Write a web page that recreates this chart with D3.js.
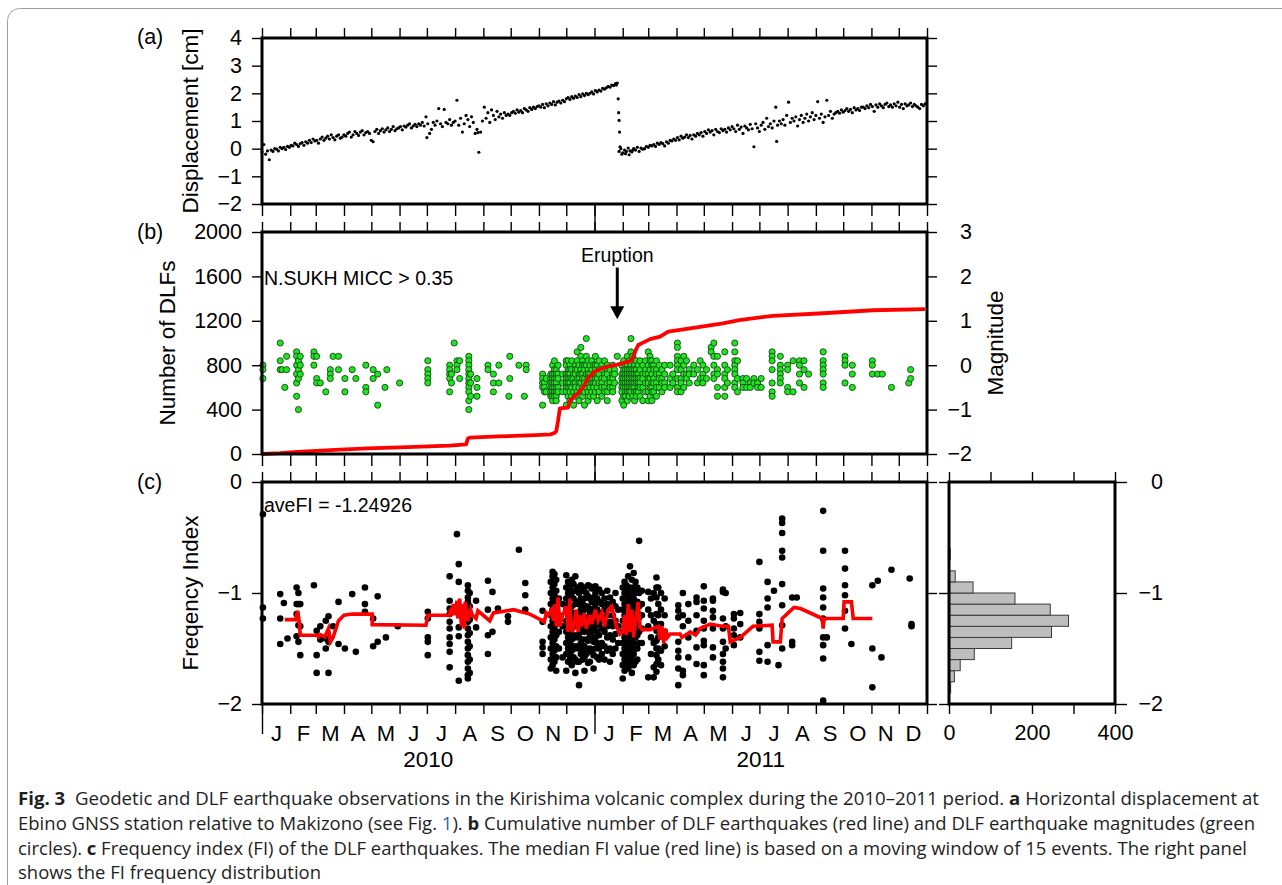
<!DOCTYPE html>
<html>
<head>
<meta charset="utf-8">
<script src="https://cdn.jsdelivr.net/npm/d3@7"></script>
<style>
  body { margin: 0; background: #fff; }
</style>
</head>
<body>
<svg id="fig" width="1282" height="885"></svg>
<script>
// Kirishima DLF figure: displacement, DLF count/magnitude, frequency index + histogram

const T0 = Date.UTC(2010, 0, 1);
const T1 = Date.UTC(2012, 0, 1);
const toDate = d => new Date(T0 + d * 864e5);

// (a) displacement [cm], one reading every dispStep days from 2010-01-01
const dispStep = 2;
const dispValues = [
  -0.12, 0.15, -0.2, -0.08, -0.4, -0.05, -0.1, 0.0, -0.02, -0.08, 0.05, 0.0, 0.05, -0.03, 0.08,
  0.05, 0.12, 0.1, 0.2, 0.15, 0.08, 0.18, 0.22, 0.12, 0.25, 0.2, 0.3, 0.22, 0.35, 0.28,
  0.3, 0.2, 0.35, 0.42, 0.3, 0.38, 0.45, 0.35, 0.5, 0.4, 0.32, 0.45, 0.5, 0.38, 0.42,
  0.5, 0.45, 0.55, 0.6, 0.42, 0.5, 0.62, 0.55, 0.48, 0.6, 0.65, 0.5, 0.58, 0.62, 0.55,
  0.3, 0.25, 0.62, 0.7, 0.55, 0.65, 0.72, 0.6, 0.68, 0.75, 0.62, 0.7, 0.8, 0.65, 0.72,
  0.75, 0.8, 0.68, 0.82, 0.78, 0.85, 0.9, 0.75, 0.82, 0.88, 0.8, 0.9, 0.85, 0.95, 0.82,
  1.15, 0.9, 0.55, 0.7, 0.95, 0.85, 1.0, 1.45, 0.9, 0.8, 1.42, 0.95, 0.9, 1.05, 0.85,
  0.95, 1.0, 1.75, 0.85, 1.1, 0.6, 0.9, 1.2, 1.05, 0.8, 1.15, 0.95, 0.55, 0.7, -0.13,
  0.6, 1.0, 1.5, 1.1, 1.3, 0.95, 1.4, 1.2, 1.05, 1.35, 1.15, 1.25, 1.1, 1.3, 1.2,
  1.25, 1.2, 1.3, 1.35, 1.28, 1.4, 1.32, 1.38, 1.3, 1.45, 1.4, 1.35, 1.48, 1.42, 1.5,
  1.45, 1.52, 1.55, 1.5, 1.6, 1.48, 1.62, 1.55, 1.65, 1.6, 1.7, 1.58, 1.68, 1.72, 1.65,
  1.75, 1.7, 1.8, 1.85, 1.78, 1.88, 1.82, 1.9, 1.85, 1.95, 1.88, 1.98, 1.92, 2.0, 1.95,
  2.0, 2.05, 1.98, 2.1, 2.05, 2.12, 2.08, 2.18, 2.15, 2.2, 2.25, 2.22, 2.3, 2.28, 2.35,
  2.37, -0.1, 0.0, -0.15, -0.05, -0.1, 0.02, -0.08, -0.12, 0.0, -0.05, 0.05, -0.1, 0.02, -0.02,
  0.0, 0.08, 0.05, 0.12, 0.1, 0.15, 0.08, 0.2, 0.15, 0.22, 0.18, 0.1, 0.25, 0.2, 0.3,
  0.28, 0.35, 0.3, 0.4, 0.32, 0.45, 0.38, 0.42, 0.5, 0.4, 0.48, 0.35, 0.5, 0.45, 0.55,
  0.5, 0.58, 0.45, 0.62, 0.55, 0.68, 0.6, 0.65, 0.5, 0.7, 0.62, 0.58, 0.72, 0.65, 0.7,
  0.6, 0.75, 0.68, 0.8, 0.72, 0.62, 0.85, 0.7, 0.78, 0.55, 0.82, 0.75, 0.68, 0.88, 0.72,
  0.07, 0.9, 0.75, 0.62, 0.85, 0.95, 0.7, 1.1, 0.8, 0.9, 0.75, 1.0, 1.5, 0.85, 1.0,
  0.9, 1.05, 0.85, 1.2, 1.68, 0.95, 1.1, 1.0, 1.15, 0.82, 1.05, 1.2, 0.95, 1.1, 1.25,
  1.0, 1.15, 1.3, 1.05, 1.2, 1.7, 1.1, 1.25, 0.95, 1.15, 1.75, 1.2, 1.35, 1.1, 1.25,
  1.3, 1.35, 1.28, 1.4, 1.32, 1.38, 1.45, 1.35, 1.42, 1.3, 1.48, 1.4, 1.45, 1.38, 1.5,
  1.5, 1.45, 1.55, 1.48, 1.6, 1.52, 1.35, 1.58, 1.5, 1.62, 1.55, 1.48, 1.6, 1.65, 1.52,
  1.58, 1.5, 1.62, 1.55, 1.68, 1.5, 1.6, 1.45, 1.62, 1.55, 1.58, 1.65, 1.52, 1.6, 1.55,
  1.5, 1.45, 1.6, 1.55, 1.62
];
// extra readings: the co-eruptive drop and a few off-step scatter points  [day, cm]
const dispExtra = [
  [389, 2.3], [391, 1.8], [391.5, 1.3], [392, 1.02], [392.5, 0.6], [393, 0.07],
  [395, -0.2], [399, -0.18], [403, -0.22], [407, -0.05], [565, 0.26], [181, 0.4], [237, 0.58]
];

// (b) cumulative number of DLFs
const countDays   = [0, 20, 39, 80, 116, 160, 206, 224, 226, 228, 260, 300, 317, 321, 323, 325, 327, 336, 338, 347, 352, 358, 365, 372, 379, 390, 396, 403, 406, 410, 413, 420, 426, 437, 446, 470, 506, 524, 561, 616, 671, 728];
const countValues = [0, 8, 20, 38, 50, 62, 75, 86, 140, 147, 158, 170, 177, 190, 204, 300, 411, 418, 480, 549, 594, 684, 742, 768, 787, 805, 819, 835, 847, 930, 982, 1010, 1035, 1057, 1102, 1132, 1177, 1207, 1245, 1268, 1295, 1305];

// (b) DLF magnitudes, grouped by day: [day, [magnitudes]]
const magCols = [
  [1, [0.0, -0.1, -0.3]], [20, [0.5, 0.1, -0.1]], [22, [-0.1]], [25, [-0.5]], [27, [0.2, -0.1]],
  [38, [0.3, 0.2, 0.0, -0.2, -0.4, -0.7]], [40, [0.1, -0.1, -0.3, -1.0]], [42, [0.2, 0.0, -0.2]],
  [57, [0.3, 0.2, 0.0]], [60, [0.2, -0.3, -0.4]], [64, [-0.4]], [70, [-0.6]], [75, [-0.1, -0.2, -0.3]],
  [78, [0.2]], [84, [0.2, -0.1]], [91, [-0.3, -0.6]], [99, [-0.1]], [103, [-0.3]],
  [114, [0.0, -0.5, -0.6]], [122, [-0.1, -0.3]], [127, [-0.2, -0.9]], [135, [-0.5]], [137, [-0.1]], [151, [-0.4]],
  [182, [0.1, -0.1, -0.2, -0.3, -0.4]], [206, [0.0, -0.1, -0.2, -0.3, -0.6]], [208, [-0.2, -0.4]],
  [211, [0.5]], [214, [0.1, 0.0, -0.1]], [217, [0.1, -0.3]],
  [227, [0.2, 0.1, 0.0, -0.1, -0.2, -0.3, -0.4, -0.5, -0.6, -0.8, -1.0]], [229, [-0.2, -0.4, -0.7]],
  [236, [-0.3, -0.5, -0.7]], [248, [0.0, -0.1]], [254, [-0.2, -0.4, -0.6]], [260, [0.0, -0.4]],
  [271, [-0.7]], [272, [0.2, -0.3]], [282, [0.0]], [288, [-0.7]], [290, [0.0, -0.1]],
  [308, [-0.2, -0.3, -0.4, -0.5, -0.9]], [310, [-0.4, -0.5, -0.6]], [312, [-0.3, -0.6]],
  [317, [-0.2, -0.3, -0.4, -0.5, -0.6, -0.7]], [319, [0.0, -0.2, -0.3, -0.4, -0.5, -0.6, -0.7, -0.8]],
  [321, [0.1, -0.1, -0.2, -0.3, -0.4, -0.5, -0.6, -0.7]], [323, [-0.1, -0.2, -0.3, -0.4, -0.5, -0.6, -0.7, -0.8]],
  [325, [0.0, -0.2, -0.3, -0.5, -0.6]], [330, [-0.2, -0.4, -0.6]],
  [334, [0.1, 0.0, -0.2, -0.3, -0.4, -0.5, -0.6, -0.9]], [336, [0.1, -0.1, -0.2, -0.3, -0.4, -0.5, -0.7]],
  [338, [0.0, -0.1, -0.2, -0.3, -0.4, -0.5, -0.6, -0.8]], [340, [0.1, -0.1, -0.3, -0.5, -0.7]],
  [342, [-0.2, -0.3, -0.4, -0.6, -0.9]], [344, [0.0, -0.1, -0.2, -0.4, -0.5, -0.7]],
  [346, [0.3, 0.1, -0.1, -0.3, -0.6]], [348, [0.0, -0.2, -0.3, -0.4, -0.5, -0.8]],
  [350, [0.4, 0.2, -0.1, -0.2, -0.4, -0.6]], [352, [0.1, 0.0, -0.2, -0.3, -0.5, -0.7]],
  [354, [0.0, -0.1, -0.3, -0.4, -0.6, -0.9]], [356, [0.6, 0.2, 0.0, -0.2, -0.5]],
  [358, [0.1, -0.1, -0.2, -0.3, -0.4, -0.6, -0.8]], [360, [0.0, -0.2, -0.3, -0.5, -0.7]],
  [362, [0.1, -0.1, -0.3, -0.4, -0.6]], [364, [0.0, -0.2, -0.4, -0.5, -0.7]],
  [366, [0.2, 0.0, -0.1, -0.3, -0.4, -0.6]], [368, [0.0, -0.2, -0.3, -0.5, -0.8]],
  [370, [0.1, -0.1, -0.2, -0.4, -0.6]], [373, [0.0, -0.1, -0.3, -0.4, -0.5, -0.7]],
  [376, [0.1, -0.2, -0.3, -0.5, -0.6]], [379, [0.0, -0.1, -0.2, -0.4, -0.6, -0.8]],
  [382, [-0.1, -0.3, -0.4, -0.5]], [385, [0.0, -0.2, -0.3, -0.5, -0.6]], [387, [-0.1, -0.2, -0.4]], [390, [0.2]],
  [395, [0.0, -0.2, -0.3, -0.4, -0.5, -0.6, -0.8]], [397, [0.1, -0.1, -0.2, -0.3, -0.4, -0.5, -0.7, -0.9]],
  [399, [0.0, -0.1, -0.2, -0.3, -0.4, -0.5, -0.6, -0.7]], [401, [0.2, 0.0, -0.1, -0.2, -0.3, -0.4, -0.5, -0.6, -0.8]],
  [403, [0.1, -0.1, -0.2, -0.3, -0.4, -0.5, -0.6, -0.7]], [405, [0.6, 0.3, 0.0, -0.1, -0.2, -0.3, -0.4, -0.5, -0.6]],
  [407, [0.2, 0.1, -0.1, -0.2, -0.3, -0.4, -0.5, -0.7]], [409, [0.0, -0.1, -0.2, -0.3, -0.4, -0.5, -0.6, -0.8]],
  [411, [0.1, -0.1, -0.2, -0.3, -0.4, -0.6, -0.7]], [413, [0.0, -0.2, -0.3, -0.4, -0.5, -0.6]],
  [415, [0.1, -0.1, -0.3, -0.4, -0.5, -0.7]], [418, [0.0, -0.2, -0.3, -0.5, -0.8]],
  [421, [0.1, -0.1, -0.2, -0.4, -0.6]], [424, [0.3, 0.0, -0.2, -0.3, -0.4, -0.6, -0.8]],
  [426, [0.2, 0.1, -0.1, -0.3, -0.5, -0.7]], [428, [0.1, 0.0, -0.2, -0.4, -0.5, -0.6, -0.8]],
  [430, [0.0, -0.1, -0.3, -0.4, -0.6]], [433, [0.1, -0.1, -0.2, -0.4, -0.5, -0.7]],
  [436, [0.0, -0.2, -0.3, -0.5]], [439, [-0.1, -0.3, -0.4, -0.6]], [442, [0.0, -0.2, -0.4, -0.5]],
  [448, [0.0, -0.3, -0.5]], [451, [-0.2, -0.4]],
  [456, [0.5, 0.4, 0.2, 0.1, 0.0, -0.1, -0.3, -0.5, -0.6]], [460, [0.1, -0.1, -0.3, -0.4, -0.6]],
  [463, [0.2, 0.0, -0.2, -0.5]], [466, [0.1, -0.2, -0.3]], [469, [-0.1, -0.2, -0.4]],
  [474, [0.0, -0.2]], [478, [-0.1, -0.4]], [481, [0.1, -0.3]], [484, [0.0, -0.2, -0.3, -0.4]], [488, [-0.1, -0.3]],
  [493, [0.4, 0.3]], [496, [0.5, 0.2, 0.0, -0.2, -0.3]], [500, [0.2, -0.1, -0.2, -0.5, -0.7]],
  [508, [0.3, 0.0, -0.2, -0.3, -0.5, -0.7]], [511, [-0.1, -0.4]],
  [519, [0.5, 0.3, 0.1, 0.0, -0.1, -0.2, -0.4, -0.5]], [522, [0.1, -0.3, -0.6]],
  [528, [-0.3, -0.4, -0.5]], [532, [-0.3, -0.5]], [536, [-0.4, -0.5]], [540, [-0.3, -0.4]], [544, [-0.4, -0.5]], [548, [-0.3, -0.5]],
  [560, [0.3, 0.2, 0.1, -0.1, -0.4, -0.6, -0.7]], [569, [0.2, 0.0, -0.1, -0.2, -0.3, -0.4]],
  [577, [0.0, -0.1, -0.5, -0.6]], [583, [0.1, -0.6]], [590, [0.1, 0.0, -0.2, -0.4]], [595, [0.1, -0.1, -0.5]], [600, [-0.2]],
  [616, [0.3, 0.1, 0.0, -0.1, -0.2, -0.4, -0.5]], [640, [0.2, 0.1, 0.0, -0.4]], [648, [0.0, -0.2, -0.5]],
  [670, [0.1, 0.0, -0.2]], [676, [-0.2]], [681, [-0.2]], [691, [-0.5]], [710, [-0.4]], [712, [-0.1, -0.3]]
];
const eruptionDay = 390;   // 2011-01-26

// (c) frequency index of each DLF, grouped by day: [day, [FI]]
const fiCols = [
  [1, [-0.29, -1.13, -1.23]], [20, [-1.01, -1.23, -1.46]], [24, [-1.09]], [28, [-1.41]],
  [38, [-0.95, -1.1, -1.19, -1.39]], [40, [-1.0, -1.1, -1.29, -1.44]], [42, [-1.1, -1.3, -1.56]],
  [57, [-0.93]], [60, [-1.34, -1.56, -1.72]], [64, [-1.3, -1.42]], [70, [-1.25, -1.41, -1.5]],
  [73, [-1.21, -1.44, -1.72]], [78, [-1.3]], [84, [-1.08, -1.46]], [91, [-1.5]], [99, [-1.01]], [103, [-1.53]],
  [113, [-0.95, -1.1, -1.17]], [122, [-1.23, -1.48]], [127, [-1.03, -1.44]], [136, [-1.4]], [149, [-1.3]],
  [182, [-1.17, -1.23, -1.4, -1.44, -1.56]],
  [206, [-0.85, -1.07, -1.14, -1.19, -1.26, -1.32, -1.4, -1.46, -1.53, -1.67]],
  [214, [-0.47]], [216, [-0.74, -0.9, -1.31, -1.39, -1.79]],
  [226, [-0.93, -0.98, -1.04, -1.08, -1.14, -1.2, -1.26, -1.32, -1.38, -1.44, -1.5, -1.56, -1.62, -1.68, -1.74, -1.77]],
  [228, [-1.0, -1.12, -1.24, -1.36, -1.48, -1.6, -1.72]],
  [235, [-1.07, -1.31]], [248, [-0.89, -1.15, -1.38, -1.55]], [253, [-0.99, -1.35]], [259, [-1.14]],
  [270, [-1.21, -1.26]], [282, [-0.61]], [289, [-0.91, -1.02, -1.15]],
  [308, [-1.16, -1.26, -1.44, -1.49, -1.55]],
  [317, [-0.9, -1.0, -1.1, -1.2, -1.3, -1.4, -1.5, -1.6, -1.68]],
  [319, [-0.81, -0.85, -0.95, -1.05, -1.15, -1.25, -1.35, -1.45, -1.55, -1.65]],
  [321, [-0.83, -0.92, -1.02, -1.12, -1.22, -1.32, -1.42, -1.52, -1.62]],
  [323, [-0.88, -0.98, -1.08, -1.18, -1.28, -1.38, -1.48, -1.58, -1.7]],
  [326, [-1.05, -1.2, -1.35, -1.5]], [330, [-1.1, -1.3, -1.58]],
  [334, [-0.84, -0.95, -1.05, -1.15, -1.25, -1.35, -1.45, -1.55, -1.7]],
  [336, [-0.9, -1.0, -1.1, -1.2, -1.3, -1.4, -1.5, -1.62]],
  [338, [-0.95, -1.05, -1.15, -1.25, -1.35, -1.45, -1.55, -1.6]],
  [340, [-0.88, -1.0, -1.12, -1.22, -1.32, -1.42, -1.52, -1.65]],
  [342, [-0.92, -1.05, -1.18, -1.28, -1.38, -1.48, -1.58]],
  [344, [-0.85, -0.98, -1.1, -1.2, -1.3, -1.4, -1.5, -1.6, -1.72]],
  [346, [-0.95, -1.08, -1.18, -1.28, -1.38, -1.48, -1.62]],
  [348, [-1.0, -1.1, -1.2, -1.3, -1.4, -1.5, -1.62, -1.83]],
  [350, [-0.93, -1.05, -1.15, -1.25, -1.35, -1.45, -1.55]],
  [352, [-0.98, -1.1, -1.2, -1.3, -1.42, -1.52, -1.6]],
  [354, [-0.95, -1.05, -1.15, -1.25, -1.35, -1.48, -1.58, -1.7]],
  [356, [-1.0, -1.12, -1.22, -1.32, -1.42, -1.55]],
  [358, [-0.93, -1.03, -1.13, -1.23, -1.33, -1.43, -1.53, -1.63]],
  [360, [-0.94, -1.05, -1.17, -1.28, -1.38, -1.5, -1.62]],
  [362, [-0.96, -1.08, -1.2, -1.3, -1.4, -1.52]],
  [364, [-0.95, -1.04, -1.14, -1.24, -1.34, -1.44, -1.56, -1.68]],
  [366, [-0.94, -1.0, -1.1, -1.2, -1.3, -1.4, -1.5]],
  [368, [-1.05, -1.15, -1.25, -1.35, -1.45, -1.58]],
  [370, [-0.97, -1.08, -1.18, -1.28, -1.38, -1.5, -1.6]],
  [373, [-1.0, -1.1, -1.22, -1.32, -1.45, -1.55]],
  [376, [-1.05, -1.15, -1.25, -1.35, -1.48, -1.6]],
  [379, [-0.98, -1.1, -1.2, -1.3, -1.4, -1.52]],
  [382, [-1.04, -1.14, -1.26, -1.38, -1.5, -1.62]],
  [385, [-1.08, -1.2, -1.3, -1.42, -1.55]], [388, [-1.0, -1.12, -1.25, -1.37, -1.5]], [391, [-1.15, -1.3, -1.45]],
  [396, [-0.95, -1.05, -1.15, -1.25, -1.35, -1.45, -1.55, -1.65, -1.77]],
  [398, [-0.9, -1.0, -1.1, -1.2, -1.3, -1.4, -1.5, -1.6, -1.7]],
  [400, [-0.93, -1.03, -1.13, -1.23, -1.33, -1.43, -1.53, -1.63]],
  [402, [-0.85, -0.98, -1.08, -1.18, -1.28, -1.38, -1.48, -1.58, -1.68]],
  [404, [-0.76, -0.95, -1.05, -1.15, -1.25, -1.35, -1.45, -1.55, -1.65]],
  [406, [-0.88, -1.0, -1.1, -1.2, -1.3, -1.4, -1.5, -1.6, -1.72]],
  [408, [-0.82, -0.95, -1.05, -1.15, -1.25, -1.35, -1.45, -1.55, -1.65]],
  [410, [-0.9, -1.0, -1.1, -1.2, -1.3, -1.4, -1.5, -1.62]],
  [412, [-0.95, -1.08, -1.18, -1.28, -1.38, -1.5, -1.6]],
  [414, [-0.53, -1.0, -1.12, -1.22, -1.35, -1.45]], [417, [-0.98, -1.1, -1.2, -1.32, -1.45]],
  [424, [-0.99, -1.15, -1.3, -1.76]], [427, [-1.05, -1.2, -1.4, -1.55]], [430, [-1.0, -1.25, -1.45, -1.67, -1.76]],
  [433, [-0.86, -0.95, -1.04, -1.19, -1.28, -1.34, -1.43, -1.5, -1.56, -1.64, -1.71]],
  [435, [-0.95, -1.1, -1.2, -1.3, -1.4, -1.5, -1.6]], [438, [-1.0, -1.15, -1.28, -1.38, -1.52, -1.65]],
  [442, [-1.05, -1.2, -1.35, -1.48]],
  [457, [-1.11, -1.16, -1.22, -1.44, -1.52, -1.58, -1.68, -1.83]], [462, [-1.0, -1.2, -1.3, -1.7, -1.74]],
  [468, [-1.1, -1.25, -1.4, -1.58]], [477, [-1.04, -1.08, -1.2, -1.34, -1.49, -1.64]],
  [485, [-0.94, -1.07, -1.14, -1.25, -1.32, -1.43, -1.47, -1.65, -1.74]],
  [495, [-1.05, -1.07, -1.16, -1.22, -1.32, -1.49, -1.58]],
  [506, [-0.97, -0.99, -1.23, -1.32, -1.44, -1.55, -1.62, -1.68, -1.76]], [509, [-1.0, -1.3, -1.5]],
  [518, [-1.19, -1.23, -1.32, -1.38, -1.47]], [525, [-1.18, -1.28, -1.4]],
  [546, [-0.72, -1.19, -1.26, -1.32, -1.53, -1.61]], [555, [-0.9, -1.05, -1.13, -1.47, -1.62]],
  [562, [-0.98]], [567, [-1.65]], [571, [-0.33, -0.37, -0.46, -0.62, -0.68, -0.92, -1.11, -1.29, -1.5]],
  [582, [-1.04, -1.44, -1.47]], [587, [-1.04]],
  [616, [-0.26, -0.62, -0.96, -1.04, -1.13, -1.23, -1.4, -1.47, -1.59, -1.97]], [620, [-1.4]],
  [640, [-0.62, -0.78, -0.93, -1.02, -1.16, -1.32]], [647, [-1.46]],
  [670, [-0.93, -1.5, -1.85]], [676, [-0.89]], [680, [-1.58]], [691, [-0.79]], [711, [-0.87]], [713, [-1.28, -1.3]]
];

// (c) running median FI (15-event window): [day, FI]
const fiMedian = [
  [25, -1.24], [37, -1.24], [39, -1.16], [41, -1.26], [42, -1.38], [60, -1.38], [62, -1.395], [64, -1.375],
  [69, -1.395], [73, -1.32], [75, -1.44], [78, -1.4], [84, -1.25], [90, -1.2], [99, -1.19], [121, -1.19],
  [121, -1.285], [180, -1.29], [182, -1.2], [206, -1.2], [207, -1.14], [208, -1.2], [210, -1.1], [212, -1.2],
  [214, -1.07], [215, -1.23], [217, -1.05], [219, -1.3], [220, -1.1], [222, -1.32], [223, -1.08], [226, -1.25],
  [229, -1.15], [231, -1.2], [235, -1.23], [237, -1.16], [250, -1.25], [254, -1.18], [276, -1.15], [294, -1.19],
  [308, -1.25], [310, -1.26], [312, -1.18], [314, -1.2], [318, -1.15], [320, -1.25], [322, -1.1], [323, -1.3],
  [325, -1.04], [327, -1.3], [330, -1.2], [334, -1.12], [336, -1.35], [338, -1.05], [339, -1.3], [341, -1.35],
  [345, -1.15], [347, -1.35], [349, -1.2], [351, -1.3], [354, -1.18], [356, -1.32], [360, -1.2], [362, -1.28],
  [366, -1.15], [369, -1.25], [373, -1.18], [376, -1.3], [380, -1.15], [384, -1.12], [389, -1.3], [393, -1.37],
  [396, -1.35], [398, -1.2], [400, -1.38], [402, -1.1], [404, -1.35], [406, -1.15], [408, -1.4], [411, -1.2],
  [413, -1.08], [415, -1.3], [417, -1.33], [426, -1.33], [435, -1.3], [437, -1.42], [439, -1.3], [441, -1.45],
  [443, -1.32], [445, -1.4], [448, -1.37], [459, -1.37], [461, -1.4], [470, -1.35], [476, -1.38], [481, -1.32],
  [492, -1.28], [505, -1.3], [512, -1.3], [514, -1.44], [525, -1.4], [532, -1.35], [539, -1.3], [560, -1.29],
  [561, -1.44], [569, -1.44], [571, -1.23], [575, -1.2], [584, -1.13], [591, -1.14], [602, -1.18], [615, -1.23],
  [616, -1.32], [617, -1.23], [638, -1.23], [639, -1.08], [647, -1.08], [649, -1.23], [670, -1.23]
];

// FI histogram (bin width 0.1)
const histBinStart = [-1.9, -1.8, -1.7, -1.6, -1.5, -1.4, -1.3, -1.2, -1.1, -1.0, -0.9, -0.8, -0.7];
const histCounts   = [4, 13, 27, 61, 151, 247, 288, 244, 159, 58, 15, 1, 3];
const histBinWidth = 0.1;

// tick values / labels
const dispTicks  = [-2, -1, 0, 1, 2, 3, 4];
const countTicks = [0, 400, 800, 1200, 1600, 2000];
const magTicks   = [-2, -1, 0, 1, 2, 3];
const fiTicks    = [-2, -1, 0];
const histTicks  = [0, 100, 200, 300, 400];
const histLabels = [0, 200, 400];
const yearLabels = ['2010', '2011'];

const FONT = '"Liberation Sans", Arial, Helvetica, sans-serif';
const svg = d3.select('#fig');

// outer figure border (rounded corner, top-left)
svg.append('rect')
  .attr('x', 7.5).attr('y', 8.5).attr('width', 1320).attr('height', 920).attr('rx', 12)
  .attr('fill', 'none').attr('stroke', '#a0a0a0').attr('stroke-width', 1);

const x  = d3.scaleUtc().domain([new Date(T0), new Date(T1)]).range([262, 927]);
const yA = d3.scaleLinear().domain([-2, 4]).range([204, 38]);
const yB = d3.scaleLinear().domain([0, 2000]).range([454, 232]);
const yM = d3.scaleLinear().domain([-2, 3]).range([454, 232]);
const yC = d3.scaleLinear().domain([-2, 0]).range([704, 482]);
const hx = d3.scaleLinear().domain([0, 400]).range([949, 1115]);

const monthTicks = d3.utcMonths(new Date(T0), new Date(T1 + 1));
const yearTicks = d3.utcYears(new Date(T0), new Date(T1));
const fmtInt = d3.format('d');

function addAxis(axis, tx, ty, size = 21.5) {
  const g = svg.append('g').attr('transform', `translate(${tx},${ty})`).call(axis);
  g.select('.domain').remove();
  g.attr('font-family', FONT).attr('font-size', size);
  g.selectAll('line').attr('stroke', '#000').attr('stroke-width', 1.4);
  g.selectAll('text').attr('fill', '#000');
  return g;
}
function frame(x0, x1, y0, y1) {
  svg.append('rect')
    .attr('x', x0).attr('y', y0).attr('width', x1 - x0).attr('height', y1 - y0)
    .attr('fill', 'none').attr('stroke', '#000').attr('stroke-width', 3);
}
function label(txt, tx, ty, size, anchor = 'start') {
  return svg.append('text').attr('x', tx).attr('y', ty)
    .attr('font-family', FONT).attr('font-size', size).attr('text-anchor', anchor).text(txt);
}
function title(txt, tx, ty) {
  svg.append('text').attr('transform', `translate(${tx},${ty}) rotate(-90)`)
    .attr('font-family', FONT).attr('font-size', 22.5).attr('text-anchor', 'middle').text(txt);
}
const monthTop = n => d3.axisTop(x).tickValues(monthTicks).tickSize(n).tickFormat('');
const monthBottom = n => d3.axisBottom(x).tickValues(monthTicks).tickSize(n).tickFormat('');

// ---------- (a) displacement ----------
const dispPoints = dispValues.map((v, i) => [i * dispStep, v]).concat(dispExtra);
svg.append('g').selectAll('circle').data(dispPoints).enter().append('circle')
  .attr('cx', d => x(toDate(d[0]))).attr('cy', d => yA(d[1])).attr('r', 1.6).attr('fill', '#000');

addAxis(monthTop(10), 0, 38);
addAxis(monthBottom(12), 0, 204);
addAxis(d3.axisBottom(x).tickValues(yearTicks.slice(1)).tickSize(28).tickFormat(''), 0, 204);
addAxis(d3.axisLeft(yA).tickValues(dispTicks).tickSize(10).tickPadding(10).tickFormat(fmtInt), 262, 0);
addAxis(d3.axisRight(yA).tickValues(dispTicks).tickSize(10).tickFormat(''), 927, 0);
frame(262, 927, 38, 204);
label('(a)', 137, 44, 21.5);
title('Displacement [cm]', 198, 121);

// ---------- (b) DLF count + magnitude ----------
const magPoints = magCols.flatMap(([d, ms]) => ms.map(m => [d, m]));
svg.append('g').selectAll('circle').data(magPoints).enter().append('circle')
  .attr('cx', d => x(toDate(d[0]))).attr('cy', d => yM(d[1])).attr('r', 3.1)
  .attr('fill', '#1ee61e').attr('stroke', '#142e14').attr('stroke-width', 0.8);

const countLine = d3.line().x(d => x(toDate(d[0]))).y(d => yB(d[1]));
svg.append('path').datum(d3.zip(countDays, countValues))
  .attr('d', countLine).attr('fill', 'none').attr('stroke', '#ff0000')
  .attr('stroke-width', 3.8).attr('stroke-linejoin', 'round');

addAxis(monthTop(10), 0, 232);
addAxis(monthBottom(12), 0, 454);
addAxis(d3.axisBottom(x).tickValues(yearTicks.slice(1)).tickSize(28).tickFormat(''), 0, 454);
addAxis(d3.axisLeft(yB).tickValues(countTicks).tickSize(10).tickPadding(10).tickFormat(fmtInt), 262, 0);
addAxis(d3.axisRight(yM).tickValues(magTicks).tickSize(10).tickFormat(fmtInt), 927, 0)
  .selectAll('text').attr('text-anchor', 'end').attr('x', 45);
frame(262, 927, 232, 454);
label('(b)', 137, 239, 21.5);
title('Number of DLFs', 175, 343);
title('Magnitude', 1003, 343);
label('N.SUKH MICC > 0.35', 264, 285, 19.5);

// eruption arrow
const ex = x(toDate(eruptionDay));
label('Eruption', ex, yB(1730), 19.5, 'middle');
svg.append('line').attr('x1', ex).attr('x2', ex).attr('y1', yB(1680)).attr('y2', yB(1300))
  .attr('stroke', '#000').attr('stroke-width', 3);
svg.append('path')
  .attr('d', `M${ex - 7},${yB(1330)} L${ex + 7},${yB(1330)} L${ex},${yB(1215)} Z`).attr('fill', '#000');

// ---------- (c) frequency index ----------
const fiPoints = fiCols.flatMap(([d, fs]) => fs.map(f => [d, f]));
svg.append('g').selectAll('circle').data(fiPoints).enter().append('circle')
  .attr('cx', d => x(toDate(d[0]))).attr('cy', d => yC(d[1])).attr('r', 3.3).attr('fill', '#000');

const medLine = d3.line().x(d => x(toDate(d[0]))).y(d => yC(d[1]));
svg.append('path').datum(fiMedian)
  .attr('d', medLine).attr('fill', 'none').attr('stroke', '#ff0000')
  .attr('stroke-width', 3.6).attr('stroke-linejoin', 'miter');

addAxis(monthTop(10), 0, 482);
addAxis(monthBottom(10), 0, 704);
addAxis(d3.axisBottom(x).tickValues(yearTicks).tickSize(30).tickFormat(''), 0, 704);
addAxis(d3.axisLeft(yC).tickValues(fiTicks).tickSize(10).tickPadding(10).tickFormat(fmtInt), 262, 0);
addAxis(d3.axisRight(yC).tickValues(fiTicks).tickSize(10).tickFormat(''), 927, 0);
frame(262, 927, 482, 704);
label('(c)', 137, 489, 21.5);
title('Freqency Index', 198, 593);
label('aveFI = -1.24926', 264, 512, 19.5);

// month initials centred in each month, year under the months
const midMonths = monthTicks.slice(0, -1).map(m => new Date((+m + +d3.utcMonth.offset(m, 1)) / 2));
addAxis(d3.axisBottom(x).tickValues(midMonths).tickSize(0).tickPadding(21)
  .tickFormat(d => d3.utcFormat('%b')(d)[0]), 0, 704, 22);
yearTicks.forEach((yr, i) => {
  const mid = new Date((+yr + +d3.utcYear.offset(yr, 1)) / 2);
  label(yearLabels[i], x(mid), 767, 22.5, 'middle');
});

// ---------- FI histogram ----------
svg.append('g').selectAll('rect').data(d3.zip(histBinStart, histCounts)).enter().append('rect')
  .attr('x', hx(0)).attr('y', d => yC(d[0] + histBinWidth))
  .attr('width', d => hx(d[1]) - hx(0)).attr('height', d => yC(d[0]) - yC(d[0] + histBinWidth))
  .attr('fill', '#bebebe').attr('stroke', '#3a3a3a').attr('stroke-width', 1);

addAxis(d3.axisTop(hx).tickValues(histTicks).tickSize(10).tickFormat(''), 0, 482);
addAxis(d3.axisBottom(hx).tickValues(histTicks).tickSize(10).tickPadding(11)
  .tickFormat(d => histLabels.includes(d) ? fmtInt(d) : ''), 0, 704);
addAxis(d3.axisLeft(yC).tickValues(fiTicks).tickSize(10).tickFormat(''), 949, 0);
addAxis(d3.axisRight(yC).tickValues(fiTicks).tickSize(12).tickFormat(fmtInt), 1115, 0)
  .selectAll('text').attr('text-anchor', 'end').attr('x', 48);
frame(949, 1115, 482, 704);

// ---------- caption ----------
const CAP_FONT = '"Open Sans", "Noto Sans", sans-serif';
const captionLines = [
  { y: 805, len: 1241, parts: [['Fig. 3', 'b'], ['  Geodetic and DLF earthquake observations in the Kirishima volcanic complex during the 2010–2011 period. '], ['a', 'b'], [' Horizontal displacement at']] },
  { y: 830, len: 1237, parts: [['Ebino GNSS station relative to Makizono (see Fig. '], ['1', 'link'], ['). '], ['b', 'b'], [' Cumulative number of DLF earthquakes (red line) and DLF earthquake magnitudes (green']] },
  { y: 855, len: 1229, parts: [['circles). '], ['c', 'b'], [' Frequency index (FI) of the DLF earthquakes. The median FI value (red line) is based on a moving window of 15 events. The right panel']] },
  { y: 879, len: 303, parts: [['shows the FI frequency distribution']] }
];
captionLines.forEach(line => {
  const t = svg.append('text').attr('x', 18).attr('y', line.y)
    .attr('font-family', CAP_FONT).attr('font-size', 17.5).attr('fill', '#1e1e1e')
    .attr('textLength', line.len).attr('lengthAdjust', 'spacingAndGlyphs')
    .attr('xml:space', 'preserve');
  line.parts.forEach(([txt, kind]) => {
    t.append('tspan').text(txt)
      .attr('font-weight', kind === 'b' ? 'bold' : null)
      .attr('fill', kind === 'link' ? '#2a63b0' : null);
  });
});
</script>
</body>
</html>
